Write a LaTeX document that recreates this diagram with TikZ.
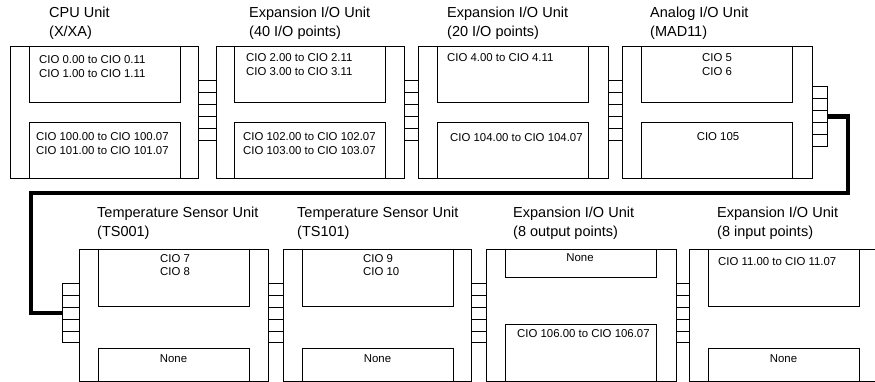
\documentclass[tikz,border=0pt]{standalone}
\usepackage{fontspec}
\setmainfont{Liberation Sans}
\usepackage{tikz}
\usetikzlibrary{calc}
\tikzset{
  unitbox/.style={draw,line width=1pt,rectangle,inner sep=0pt,anchor=north west,
    minimum height=132pt},
  slot/.style={draw,line width=1pt,rectangle,inner sep=0pt,anchor=north west,
    minimum width=151pt},
  plug/.style={draw,line width=1pt,rectangle,inner sep=0pt,anchor=north west},
  cable/.style={line width=4.5pt,line join=miter},
  unitlabel/.style={inner sep=0pt,anchor=west,align=left,
    font=\fontsize{14.5}{19}\selectfont},
  ciotext/.style={inner sep=0pt,anchor=west,align=left,
    font=\fontsize{11.4}{13.5}\selectfont}
}
\begin{document}
\begin{tikzpicture}[x=1pt,y=-1pt]
  \useasboundingbox (0,0) rectangle (875,381);
  % top row
  \node[unitbox,minimum width=188pt] (cpu) at (10,46) {};
  \node[unitbox,minimum width=188pt] (ex40) at (216,46) {};
  \node[unitbox,minimum width=190pt] (ex20) at (418,46) {};
  \node[unitbox,minimum width=190pt] (mad) at (622,46) {};
  \node[slot,minimum height=56pt] (cpuA) at (29,46) {};
  \node[slot,minimum height=56pt] (cpuB) at (29,122) {};
  \node[slot,minimum height=56pt] (ex40A) at (234,46) {};
  \node[slot,minimum height=56pt] (ex40B) at (234,122) {};
  \node[slot,minimum height=56pt] (ex20A) at (437,46) {};
  \node[slot,minimum height=56pt] (ex20B) at (437,122) {};
  \node[slot,minimum height=56pt] (madA) at (641,46) {};
  \node[slot,minimum height=56pt] (madB) at (641,122) {};
  \node[plug,minimum width=18pt,minimum height=60pt] (p1) at (198,80) {};
  \node[plug,minimum width=14pt,minimum height=60pt] (p2) at (404,80) {};
  \node[plug,minimum width=14pt,minimum height=60pt] (p3) at (608,80) {};
  \node[plug,minimum width=15pt,minimum height=60pt] (p4) at (812,86) {};
  % bottom row
  \node[unitbox,minimum width=189pt,minimum height=131.5pt] (ts1) at (79,249) {};
  \node[unitbox,minimum width=188pt,minimum height=131.5pt] (ts2) at (283,249) {};
  \node[unitbox,minimum width=190pt,minimum height=131.5pt] (out8) at (486,249) {};
  \node[unitbox,minimum width=185.5pt,minimum height=131.5pt] (in8) at (689,249) {};
  \node[slot,minimum height=57pt] (ts1A) at (98,249) {};
  \node[slot,minimum height=32.5pt] (ts1B) at (98,348) {};
  \node[slot,minimum height=57pt] (ts2A) at (302,249) {};
  \node[slot,minimum height=32.5pt] (ts2B) at (302,348) {};
  \node[slot,minimum height=28pt] (out8A) at (505,249) {};
  \node[slot,minimum height=56.5pt] (out8B) at (505,324) {};
  \node[slot,minimum height=57pt] (in8A) at (708,249) {};
  \node[slot,minimum height=32.5pt] (in8B) at (708,348) {};
  \node[plug,minimum width=17pt,minimum height=59pt] (p5) at (62,283) {};
  \node[plug,minimum width=15pt,minimum height=59pt] (p6) at (268,283) {};
  \node[plug,minimum width=15pt,minimum height=59pt] (p7) at (471,283) {};
  \node[plug,minimum width=13pt,minimum height=59pt] (p8) at (676,283) {};
  \foreach \p in {p1,p2,p3,p4,p5,p6,p7,p8}
    \foreach \k in {1,2,3,4}
      \draw[line width=1pt] ($(\p.north west)!\k/5!(\p.south west)$) -- ($(\p.north east)!\k/5!(\p.south east)$);
  % cable between the rows
  \coordinate (bendA) at (848,193);
  \coordinate (bendB) at (31,193);
  \draw[cable] (p4.east) -| (bendA) -- (bendB) |- (p5.west);
  % unit names
  \node[unitlabel] (cpuL) at (49,23.5) {CPU Unit\\(X/XA)};
  \node[unitlabel] (ex40L) at (249,23.5) {Expansion I/O Unit\\(40 I/O points)};
  \node[unitlabel] (ex20L) at (447,23.5) {Expansion I/O Unit\\(20 I/O points)};
  \node[unitlabel] (madL) at (650,23.5) {Analog I/O Unit\\(MAD11)};
  \node[unitlabel] (ts1L) at (97,223.5) {Temperature Sensor Unit\\(TS001)};
  \node[unitlabel] (ts2L) at (297,223.5) {Temperature Sensor Unit\\(TS101)};
  \node[unitlabel] (out8L) at (513,223.5) {Expansion I/O Unit\\(8 output points)};
  \node[unitlabel] (in8L) at (717,223.5) {Expansion I/O Unit\\(8 input points)};
  % allocated words
  \node[ciotext] (cpuAT) at (39,66.5) {CIO 0.00 to CIO 0.11\\CIO 1.00 to CIO 1.11};
  \node[ciotext] (cpuBT) at (36,143.5) {CIO 100.00 to CIO 100.07\\CIO 101.00 to CIO 101.07};
  \node[ciotext] (ex40AT) at (246,64.5) {CIO 2.00 to CIO 2.11\\CIO 3.00 to CIO 3.11};
  \node[ciotext] (ex40BT) at (243,143.5) {CIO 102.00 to CIO 102.07\\CIO 103.00 to CIO 103.07};
  \node[ciotext] (ex20AT) at (447,58) {CIO 4.00 to CIO 4.11};
  \node[ciotext] (ex20BT) at (450,138) {CIO 104.00 to CIO 104.07};
  \node[ciotext] (madAT) at (702,64.5) {CIO 5\\CIO 6};
  \node[ciotext,anchor=center] (madBT) at (718,137) {CIO 105};
  \node[ciotext] (ts1AT) at (160,265) {CIO 7\\CIO 8};
  \node[ciotext,anchor=center] (ts1BT) at (173.5,359) {None};
  \node[ciotext] (ts2AT) at (363,265) {CIO 9\\CIO 10};
  \node[ciotext,anchor=center] (ts2BT) at (377.5,359) {None};
  \node[ciotext,anchor=center] (out8AT) at (580,258) {None};
  \node[ciotext] (out8BT) at (517,334) {CIO 106.00 to CIO 106.07};
  \node[ciotext] (in8AT) at (718,262) {CIO 11.00 to CIO 11.07};
  \node[ciotext,anchor=center] (in8BT) at (783.5,359) {None};
\end{tikzpicture}
\end{document}
